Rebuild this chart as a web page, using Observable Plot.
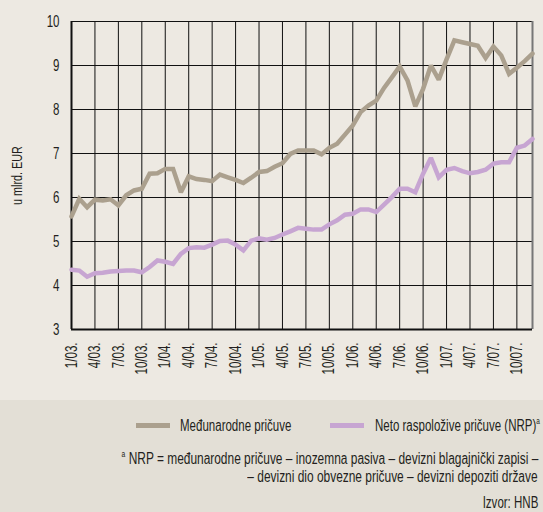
<!DOCTYPE html>
<html>
<head>
<meta charset="utf-8">
<script src="https://cdn.jsdelivr.net/npm/d3@7"></script>
<script src="https://cdn.jsdelivr.net/npm/@observablehq/plot@0.6"></script>
<style>
  html, body { margin: 0; padding: 0; }
  body { width: 543px; height: 512px; overflow: hidden; background: #ede9e2;
         font-family: "Liberation Sans", Arial, sans-serif; color: #231f20; }
  #chart { width: 543px; height: 400px; background: #ede9e2; }
  #foot { position: relative; width: 543px; height: 112px; background: #e3dfd6; }
  .sw { position: absolute; height: 5px; }
  .t { position: absolute; font-size: 16px; line-height: 18px; white-space: nowrap; }
  .t span { display: inline-block; transform: scaleX(0.72); transform-origin: left center; }
  .r { right: 5px; text-align: right; }
  .r span { transform-origin: right center; }
  .r span.w { transform: scaleX(0.745); }
  sup { font-size: 9px; vertical-align: 7px; line-height: 0; }
</style>
</head>
<body>
<div id="chart"></div>
<div id="foot">
  <div class="sw" style="left:136px; top:23px; width:34px; background:#aba08e;"></div>
  <div class="t" style="left:180px; top:17px;"><span>Međunarodne pričuve</span></div>
  <div class="sw" style="left:330px; top:23px; width:34px; background:#c7a5d2;"></div>
  <div class="t" style="left:375px; top:17px;"><span>Neto raspoložive pričuve (NRP)<sup>a</sup></span></div>
  <div class="t r" style="top:50px;"><span class="w"><sup>a</sup> NRP = međunarodne pričuve – inozemna pasiva – devizni blagajnički zapisi –</span></div>
  <div class="t r" style="top:68px;"><span class="w">– devizni dio obvezne pričuve – devizni depoziti države</span></div>
  <div class="t r" style="top:94px;"><span>Izvor: HNB</span></div>
</div>
<script>
// Monthly values, January 2003 – December 2007 (billion EUR)
const reserves = [5.57,5.97,5.78,5.95,5.93,5.96,5.82,6.05,6.16,6.20,6.54,6.55,
                  6.65,6.65,6.12,6.48,6.42,6.40,6.37,6.52,6.46,6.40,6.33,6.45,
                  6.58,6.60,6.70,6.78,6.99,7.07,7.07,7.07,6.98,7.13,7.22,7.43,
                  7.64,7.94,8.09,8.20,8.49,8.73,8.98,8.66,8.07,8.47,9.00,8.68,
                  9.14,9.57,9.53,9.49,9.45,9.17,9.43,9.23,8.81,8.95,9.10,9.27];
const nrp = [4.36,4.34,4.20,4.28,4.29,4.32,4.33,4.34,4.34,4.30,4.42,4.57,
             4.54,4.49,4.72,4.85,4.87,4.86,4.93,5.01,5.02,4.93,4.80,5.02,
             5.07,5.04,5.08,5.16,5.23,5.31,5.29,5.27,5.27,5.39,5.48,5.61,
             5.63,5.73,5.73,5.67,5.84,6.01,6.20,6.20,6.12,6.54,6.90,6.46,
             6.63,6.67,6.60,6.55,6.58,6.63,6.77,6.80,6.80,7.13,7.18,7.33];
const tickLabels = ["1/03.","4/03.","7/03.","10/03.","1/04.","4/04.","7/04.","10/04.",
                    "1/05.","4/05.","7/05.","10/05.","1/06.","4/06.","7/06.","10/06.",
                    "1/07.","4/07.","7/07.","10/07."];
const yTicks = [3,4,5,6,7,8,9,10];
const yLabel = "u mlrd. EUR";

const tickIdx = tickLabels.map((d, i) => i * 3);
const rows = reserves.map((v, i) => ({i, res: v, nrp: nrp[i]}));

const chart = Plot.plot({
  width: 543,
  height: 400,
  marginTop: 21,
  marginBottom: 71,
  marginLeft: 71,
  marginRight: 11,
  style: {fontFamily: '"Liberation Sans", Arial, sans-serif', fontSize: "16px", color: "#231f20", background: "#ede9e2"},
  x: {domain: [0, reserves.length - 1], axis: null},
  y: {domain: [3, 10]},
  marks: [
    Plot.ruleY(yTicks, {stroke: "#111", strokeWidth: 1}),
    Plot.ruleX(tickIdx, {stroke: "#111", strokeWidth: 1}),
    Plot.ruleX([reserves.length - 1], {stroke: "#777", strokeWidth: 2}),
    Plot.ruleX([0], {stroke: "#111", strokeWidth: 2}),
    Plot.ruleY([3], {stroke: "#111", strokeWidth: 2}),
    Plot.line(rows, {x: "i", y: "res", stroke: "#aba08e", strokeWidth: 4.5, strokeLinejoin: "miter", strokeMiterlimit: 2}),
    Plot.line(rows, {x: "i", y: "nrp", stroke: "#c7a5d2", strokeWidth: 4.5, strokeLinejoin: "miter", strokeMiterlimit: 2}),
    Plot.axisY({ticks: yTicks, tickSize: 0, tickPadding: 12, tickFormat: d => String(d), label: null}),
    Plot.text(tickIdx, {x: d => d, frameAnchor: "bottom", text: d => tickLabels[d / 3],
                        rotate: -90, dy: 13, textAnchor: "end", lineAnchor: "middle",
                        fontSize: 16, fill: "#231f20"}),
    Plot.text([yLabel], {frameAnchor: "left", text: d => d, rotate: -90, dx: -54,
                         textAnchor: "middle", fontSize: 15, fill: "#231f20"})
  ]
});
document.getElementById("chart").appendChild(chart);
// condense glyphs horizontally (the original uses a condensed typeface)
chart.querySelectorAll("text").forEach(t => {
  const L = t.getComputedTextLength();
  t.setAttribute("textLength", (L * 0.72).toFixed(2));
  t.setAttribute("lengthAdjust", "spacingAndGlyphs");
});
</script>
</body>
</html>
